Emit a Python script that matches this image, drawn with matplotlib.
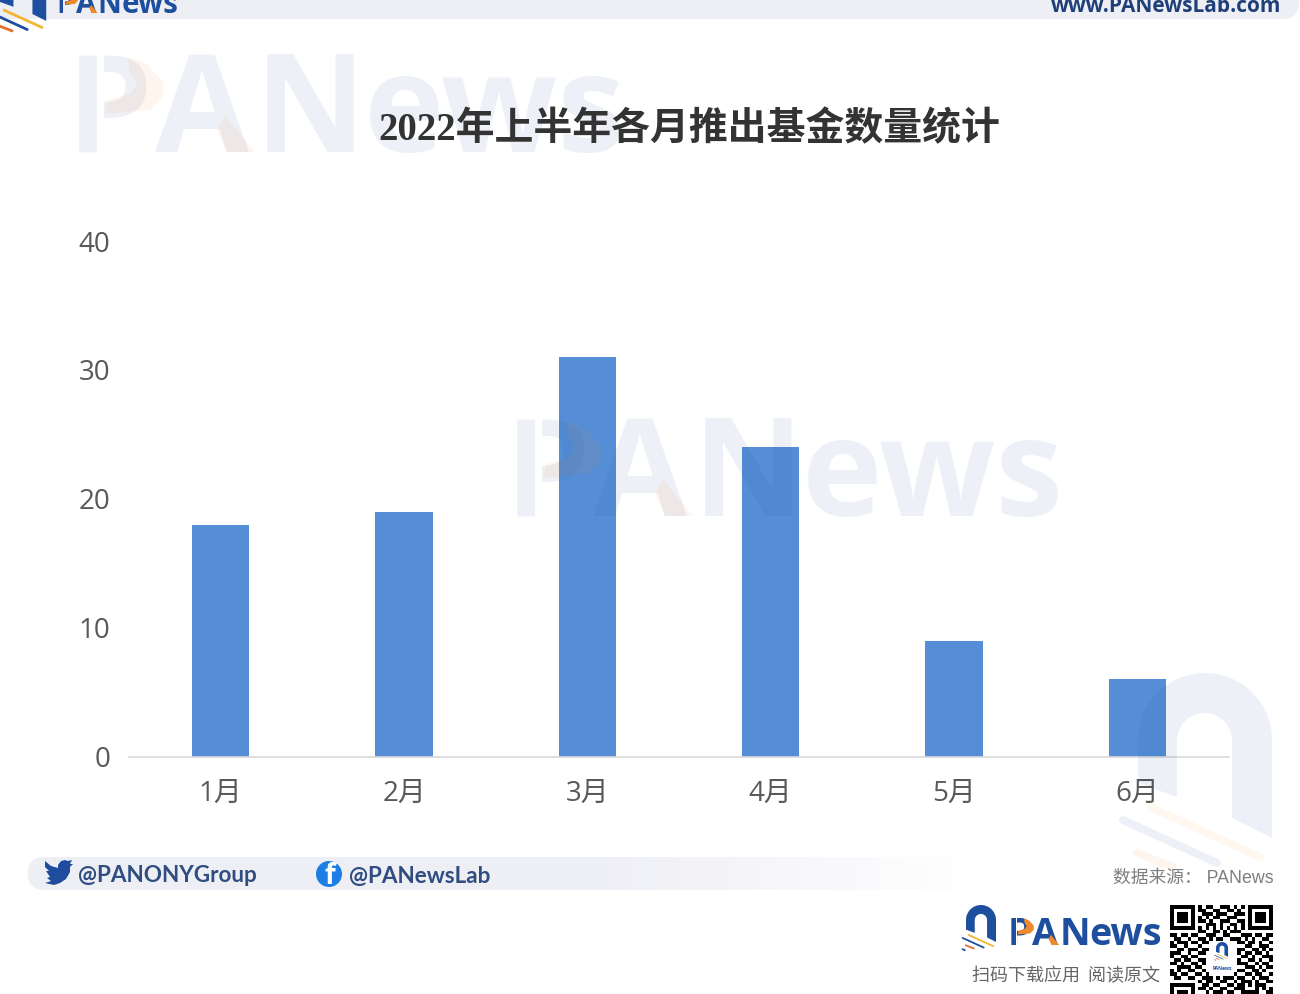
import numpy as np
import matplotlib
matplotlib.use('Agg')
import matplotlib.pyplot as plt
from matplotlib.patches import Polygon, FancyBboxPatch, Circle, Rectangle

plt.rcParams['font.family'] = ['Noto Sans CJK SC', 'DejaVu Sans']

# datos del grafico
meses = ['1月', '2月', '3月', '4月', '5月', '6月']
fondos = [18, 19, 31, 24, 9, 6]
yticks = [0, 10, 20, 30, 40]
titulo = '2022年上半年各月推出基金数量统计'

AZUL = '#1d4f9e'
NARANJA = '#ee8a2c'
W, H = 1300, 994

# modulos del QR, a ojo
qr = [
    '11111110101100111010101111111',
    '10000010110011001101001000001',
    '10111010011101110011101011101',
    '10111010101011001110001011101',
    '10111010110100111001101011101',
    '10000010001110100110101000001',
    '11111110101010101010101111111',
    '00000000110011010111000000000',
    '11011011001110011000111011011',
    '01100100110101100111010100110',
    '10111011011000111001101101001',
    '11001000100111010110011001110',
    '00110111011000000011100110101',
    '11100100110000000001011011010',
    '10011011000000000000110100111',
    '01101100110000000001001101001',
    '11010011010000000001110010110',
    '00111101100000000000011101011',
    '10100110010000000001100110100',
    '11011001101000000010011011001',
    '01100110011101011101100101110',
    '00000000101100110010111010011',
    '11111110011011001101101011100',
    '10000010110100110011100010101',
    '10111010001011101100111110011',
    '10111010110110011011010011100',
    '10111010011001100110101101011',
    '10000010101110011001010010110',
    '11111110010101110110101100101',
]

fig = plt.figure(figsize=(W / 100, H / 100), dpi=100, facecolor='white')

# grafico principal
ax = fig.add_axes([129 / W, 1 - 756.5 / H, 1100 / W, 515.5 / H])
ax.bar(range(len(meses)), fondos, width=0.311, color='#558dd6')
ax.set_xlim(-0.5, 5.5)
ax.set_ylim(0, 40)
ax.set_xticks(range(len(meses)))
ax.set_xticklabels(meses)
ax.set_yticks(yticks)
ax.tick_params(axis='both', length=0, labelsize=20, labelcolor='#595959')
ax.tick_params(axis='x', pad=16.5)
ax.tick_params(axis='y', pad=13.5)
for etiqueta in ax.get_xticklabels() + ax.get_yticklabels():
    etiqueta.set_family(['Open Sans', 'Noto Sans CJK SC'])
for lado in ['top', 'right', 'left']:
    ax.spines[lado].set_visible(False)
ax.spines['bottom'].set_color('#d9d9d9')
ax.spines['bottom'].set_linewidth(1.2)

# capa en pixeles para marcas de agua y pie
capa = fig.add_axes([0, 0, 1, 1], zorder=5)
capa.set_xlim(0, W)
capa.set_ylim(H, 0)
capa.axis('off')


def arco(x0, y0, esc, color, alpha=1.0, rayas=None, z=2):
    # arco del logo, x0/y0 es la esquina superior izquierda
    t = np.linspace(np.pi, 0, 40)
    fuera = np.c_[67 + 67 * np.cos(t), 67 - 67 * np.sin(t)]
    dentro = np.c_[66.5 + 27.5 * np.cos(t[::-1]), 67.5 - 27.5 * np.sin(t[::-1])]
    pts = np.vstack([[[0, 110]], fuera, [[134, 165], [94, 145]], dentro, [[39, 124]]])
    capa.add_patch(Polygon(pts * esc + [x0, y0], closed=True, fc=color, ec='none', alpha=alpha, zorder=z))
    colores = rayas or ['#f2b632', AZUL, '#e0702a', AZUL]
    tramos = [((12, 134), (122, 184)), ((-15, 147), (79, 190)),
              ((-1, 180), (35, 194)), ((-15, 197), (-5, 202))]
    for (a, b), c in zip(tramos, colores):
        capa.plot([x0 + a[0] * esc, x0 + b[0] * esc], [y0 + a[1] * esc, y0 + b[1] * esc],
                  color=c, alpha=alpha, lw=max(8 * esc * 0.72, 0.4), solid_capstyle='round', zorder=z)


def marca(x, base, ancho, color=AZUL, alpha=1.0, fondo=None, z=2):
    # wordmark PANews, x es el borde izquierdo del palo de la P
    e = ancho / 543
    for trozo, dx in (('P', -10), ('A', 78), ('N', 178), ('ews', 287)):
        capa.text(x + dx * e, base, trozo, fontsize=98 * e, fontweight='bold', color=color, alpha=alpha,
                  family=['Open Sans', 'DejaVu Sans'], ha='left', va='baseline', zorder=z)
    if fondo:
        # hueco entre el palo y la panza de la P
        capa.add_patch(Rectangle((x + 20 * e, base - 100 * e), 7 * e, 100 * e, fc=fondo, ec='none', zorder=z))
    bowl = [(50, -95), (70, -88), (86, -70), (86, -55), (73, -42), (28, -38), (31, -52),
            (53, -58), (60, -68), (53, -80)]
    pie = [(148, -37), (178, 0), (150, 0), (140, -22)]
    for forma in (bowl, pie):
        capa.add_patch(Polygon([(x + px * e, base + py * e) for px, py in forma], closed=True,
                               fc=NARANJA, ec='none', alpha=alpha, zorder=z))


# marcas de agua
marca(77, 152, 543, color='#1d4f9e', alpha=0.08, fondo='white')
marca(515, 516, 543, color='#1d4f9e', alpha=0.08, fondo='white')
arco(1138, 673, 1.0, '#1d4f9e', alpha=0.08,
     rayas=['#f5b040', '#1d4f9e', '#ee8a2c', '#ffffff00'])

capa.text(378, 130, titulo, fontsize=28, fontweight='bold', color='#333333',
          family=['Liberation Serif', 'Noto Sans CJK SC'], ha='left', va='center', zorder=3)

# banda superior
capa.add_patch(FancyBboxPatch((-40, -60), W + 39, 79, boxstyle='round,pad=0,rounding_size=16',
                              fc='#eeeff5', ec='none', zorder=2))
arco(0, -36, 0.345, AZUL, z=3)
capa.add_patch(Rectangle((50, -5), 130, 24, fc='#eeeff5', ec='none', zorder=3))
marca(59, 13, 118, fondo='#eeeff5', z=4)
capa.text(1281, 12, 'www.PANewsLab.com', fontsize=15, fontweight='bold', color='#1f3f78',
          family=['Open Sans', 'DejaVu Sans'], ha='right', va='baseline', zorder=4)

# banda inferior con degradado
grad = np.ones((1, 256, 4))
grad[..., :3] = matplotlib.colors.to_rgb('#eeeff5')
grad[..., 3] = np.r_[np.ones(150), np.linspace(1, 0, 106)]
caja = FancyBboxPatch((28, 857), 950, 33, boxstyle='round,pad=0,rounding_size=16',
                      fc='none', ec='none', transform=capa.transData)
capa.add_patch(caja)
img = capa.imshow(grad, extent=(28, 978, 890, 857), aspect='auto', zorder=1)
img.set_clip_path(caja)
capa.set_xlim(0, W)
capa.set_ylim(H, 0)

# pajaro de twitter
pajaro = [(45, 861), (51, 866), (58, 868), (58, 865), (61, 861), (65, 860), (68, 861), (72, 860),
          (70, 864), (73, 864), (70, 867), (70, 872), (66, 879), (60, 883), (54, 885), (45, 883),
          (51, 881), (47, 878), (50, 877), (46, 871), (49, 871), (45, 867)]
capa.add_patch(Polygon(pajaro, closed=True, fc='#1f4c9c', ec='none', zorder=3))
capa.text(78, 876, '@PANONYGroup', fontsize=16.2, fontweight='bold', color='#2f4d80',
          family=['Lato', 'DejaVu Sans'], ha='left', va='center', zorder=3)

# icono de facebook
capa.add_patch(Circle((329, 874), 13, fc='#1d7fe6', ec='none', zorder=3))
capa.text(330, 877, 'f', fontsize=20, fontweight='bold', color='white',
          family=['Open Sans', 'DejaVu Sans'], ha='center', va='center', zorder=4)
capa.text(349, 876, '@PANewsLab', fontsize=16.2, fontweight='bold', color='#2f4d80',
          family=['Lato', 'DejaVu Sans'], ha='left', va='center', zorder=3)

capa.text(1274, 878, '数据来源： PANews', fontsize=12.8, color='#7f7f7f',
          family=['Liberation Sans', 'Noto Sans CJK SC'], ha='right', va='center', zorder=3)

# logo y QR abajo a la derecha
arco(966, 905, 0.224, AZUL)
marca(1010, 945, 150, fondo='white')
capa.text(1160, 976, '扫码下载应用  阅读原文', fontsize=13, color='#666666', ha='right', va='center', zorder=3)

matriz = np.array([[1 - int(c) for c in fila] for fila in qr], dtype=float)
capa.imshow(matriz, extent=(1170, 1273, 1008, 905), cmap='gray', vmin=0, vmax=1,
            interpolation='nearest', aspect='auto', zorder=3)
capa.add_patch(Rectangle((1209, 941), 28, 31, fc='white', ec='none', zorder=4))
capa.set_xlim(0, W)
capa.set_ylim(H, 0)

arco(1216, 942, 0.09, AZUL, z=5)
capa.text(1222, 969, 'PANews', fontsize=3.5, fontweight='bold', color=AZUL,
          family=['Open Sans', 'DejaVu Sans'], ha='center', va='center', zorder=5)

fig.savefig('out.png', dpi=100)
